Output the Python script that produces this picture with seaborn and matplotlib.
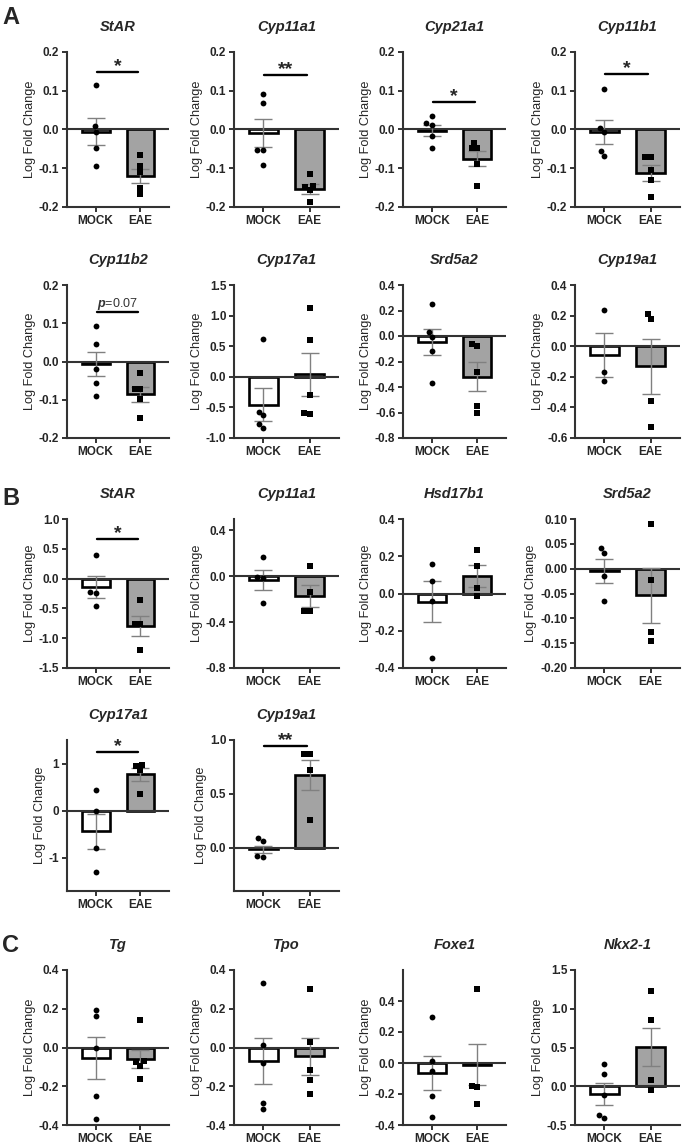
import numpy as np
import matplotlib
matplotlib.use('Agg')
import matplotlib.pyplot as plt
from matplotlib.ticker import FormatStrFormatter
import seaborn as sns

groups = ['MOCK', 'EAE']

# ---- section A ----
genes_a = ['StAR', 'Cyp11a1', 'Cyp21a1', 'Cyp11b1', 'Cyp11b2', 'Cyp17a1', 'Srd5a2', 'Cyp19a1']
a_mock_mean = [-0.006, -0.008, -0.003, -0.006, -0.007, -0.46, -0.048, -0.058]
a_mock_sem = [0.035, 0.036, 0.015, 0.031, 0.032, 0.27, 0.10, 0.145]
a_eae_mean = [-0.120, -0.153, -0.075, -0.112, -0.086, 0.04, -0.32, -0.132]
a_eae_sem = [0.018, 0.013, 0.020, 0.020, 0.019, 0.35, 0.115, 0.18]
a_mock_pts = [
    [0.115, 0.008, -0.007, -0.047, -0.095],
    [0.092, 0.069, -0.052, -0.054, -0.092],
    [0.034, 0.017, 0.012, -0.018, -0.047],
    [0.104, 0.004, -0.006, -0.055, -0.068],
    [0.093, 0.046, -0.019, -0.056, -0.089],
    [0.62, -0.57, -0.63, -0.77, -0.83],
    [0.25, 0.03, -0.01, -0.12, -0.37],
    [0.235, -0.17, -0.23],
]
a_eae_pts = [
    [-0.067, -0.095, -0.110, -0.151, -0.166],
    [-0.115, -0.145, -0.148, -0.155, -0.187],
    [-0.035, -0.047, -0.047, -0.090, -0.146],
    [-0.070, -0.072, -0.105, -0.130, -0.175],
    [-0.031, -0.072, -0.073, -0.097, -0.148],
    [1.13, 0.60, -0.30, -0.59, -0.61],
    [-0.06, -0.08, -0.28, -0.55, -0.60],
    [0.21, 0.18, -0.36, -0.53],
]
a_ylim = [(-0.2, 0.2)] * 5 + [(-1.0, 1.5), (-0.8, 0.4), (-0.6, 0.4)]
a_ticks = [[-0.2, -0.1, 0.0, 0.1, 0.2]] * 5 + [
    [-1.0, -0.5, 0.0, 0.5, 1.0, 1.5],
    [-0.8, -0.6, -0.4, -0.2, 0.0, 0.2, 0.4],
    [-0.6, -0.4, -0.2, 0.0, 0.2, 0.4],
]
a_fmt = ['%.1f'] * 8
a_sig = ['*', '**', '*', '*', '$p$=0.07', '', '', '']
a_sig_y = [0.148, 0.140, 0.071, 0.143, 0.130, 0, 0, 0]

# ---- section B ----
genes_b = ['StAR', 'Cyp11a1', 'Hsd17b1', 'Srd5a2', 'Cyp17a1', 'Cyp19a1']
b_mock_mean = [-0.14, -0.03, -0.044, -0.004, -0.43, -0.015]
b_mock_sem = [0.18, 0.086, 0.11, 0.024, 0.37, 0.035]
b_eae_mean = [-0.79, -0.17, 0.095, -0.054, 0.77, 0.675]
b_eae_sem = [0.17, 0.095, 0.058, 0.055, 0.13, 0.14]
b_mock_pts = [
    [0.40, -0.23, -0.24, -0.46],
    [0.17, -0.01, -0.015, -0.23],
    [0.16, 0.065, -0.04, -0.345],
    [0.041, 0.031, -0.014, -0.065],
    [0.44, 0.0, -0.78, -1.30],
    [0.09, 0.06, -0.077, -0.087],
]
b_eae_pts = [
    [-0.36, -0.76, -0.76, -1.19],
    [0.09, -0.14, -0.30, -0.30],
    [0.236, 0.15, 0.03, -0.015],
    [0.089, -0.022, -0.128, -0.146],
    [0.98, 0.94, 0.86, 0.35],
    [0.87, 0.87, 0.72, 0.26],
]
b_ylim = [(-1.5, 1.0), (-0.8, 0.5), (-0.4, 0.4), (-0.2, 0.1), (-1.7, 1.5), (-0.4, 1.0)]
b_ticks = [
    [-1.5, -1.0, -0.5, 0.0, 0.5, 1.0],
    [-0.8, -0.4, 0.0, 0.4],
    [-0.4, -0.2, 0.0, 0.2, 0.4],
    [-0.20, -0.15, -0.10, -0.05, 0.00, 0.05, 0.10],
    [-1, 0, 1],
    [0.0, 0.5, 1.0],
]
b_fmt = ['%.1f', '%.1f', '%.1f', '%.2f', '%d', '%.1f']
b_sig = ['*', '', '', '', '*', '**']
b_sig_y = [0.66, 0, 0, 0, 1.24, 0.94]

# ---- section C ----
genes_c = ['Tg', 'Tpo', 'Foxe1', 'Nkx2-1']
c_mock_mean = [-0.055, -0.07, -0.065, -0.10]
c_mock_sem = [0.11, 0.118, 0.107, 0.14]
c_eae_mean = [-0.06, -0.045, -0.01, 0.51]
c_eae_sem = [0.045, 0.095, 0.13, 0.245]
c_mock_pts = [
    [0.196, 0.165, 0.0, -0.251, -0.371],
    [0.333, 0.012, -0.08, -0.284, -0.316],
    [0.30, 0.01, -0.054, -0.216, -0.346],
    [0.282, 0.154, -0.115, -0.372, -0.415],
]
c_eae_pts = [
    [0.14, -0.072, -0.075, -0.094, -0.163],
    [0.30, 0.026, -0.116, -0.166, -0.238],
    [0.48, -0.148, -0.155, -0.265],
    [1.23, 0.86, 0.077, -0.051],
]
c_ylim = [(-0.4, 0.4), (-0.4, 0.4), (-0.4, 0.6), (-0.5, 1.5)]
c_ticks = [[-0.4, -0.2, 0.0, 0.2, 0.4]] * 3 + [[-0.5, 0.0, 0.5, 1.0, 1.5]]
c_fmt = ['%.1f'] * 4
c_sig = ['', '', '', '']
c_sig_y = [0, 0, 0, 0]

# ---- style ----
sns.set_style('ticks')
plt.rcParams['font.family'] = ['Liberation Sans', 'DejaVu Sans']
plt.rcParams['font.weight'] = 'bold'
plt.rcParams['axes.unicode_minus'] = False
plt.rcParams['mathtext.fontset'] = 'custom'
plt.rcParams['mathtext.it'] = 'Liberation Sans:italic'
plt.rcParams['mathtext.rm'] = 'Liberation Sans'

axis_color = '#333333'
bar_colors = ['white', '#a3a3a3']

W, H = 685, 1146
fig = plt.figure(figsize=(W / 100, H / 100), dpi=100)

cols = [(67, 169), (234, 339), (403, 506), (575, 680)]
rows = {'A1': (52, 207), 'A2': (285, 438), 'B1': (519, 668), 'B2': (740, 891), 'C': (970, 1125)}


def draw_panel(x0, x1, y0, y1, gene, mock_pts, eae_pts, means, sems, ylim, yticks, fmt, sig, sig_y):
    ax = fig.add_axes([x0 / W, 1 - y1 / H, (x1 - x0) / W, (y1 - y0) / H])
    sns.barplot(x=groups, y=means, hue=groups, order=groups, hue_order=groups,
                palette=bar_colors, width=0.62, edgecolor='black', linewidth=1.9,
                errorbar=None, legend=False, ax=ax, zorder=1)
    ax.axhline(0, color=axis_color, lw=1.5, zorder=2)
    ax.errorbar(np.arange(len(groups)), means, yerr=sems, fmt='none', ecolor='#808080',
                elinewidth=1.0, capsize=6.5, capthick=1.0, zorder=3)
    sns.swarmplot(x=['MOCK'] * len(mock_pts), y=mock_pts, order=groups, color='black',
                  marker='o', size=4.2, linewidth=0, ax=ax, zorder=4)
    sns.swarmplot(x=['EAE'] * len(eae_pts), y=eae_pts, order=groups, color='black',
                  marker='s', size=3.8, linewidth=0, ax=ax, zorder=4)
    ax.set_xlim(-0.64, 1.64)
    ax.set_ylim(ylim)
    ax.set_yticks(yticks)
    ax.yaxis.set_major_formatter(FormatStrFormatter(fmt))
    ax.set_xlabel('')
    ax.set_ylabel('Log Fold Change', fontsize=9.2, labelpad=2)
    sns.despine(ax=ax)
    for s in ['left', 'bottom']:
        ax.spines[s].set_color(axis_color)
        ax.spines[s].set_linewidth(1.5)
    ax.tick_params(axis='both', length=3.5, width=1.4, color=axis_color, labelsize=8.5, pad=2)

    if sig:
        ax.plot([0.02, 0.95], [sig_y, sig_y], color='black', lw=1.7, clip_on=False, zorder=5)
        if sig.startswith('$'):
            ax.annotate(sig, xy=(0.485, sig_y), xytext=(0, 3.5), textcoords='offset points',
                        ha='center', va='baseline', fontsize=9, fontweight='normal', color='#333333')
        else:
            ax.annotate(sig, xy=(0.485, sig_y), xytext=(0, 1), textcoords='offset points',
                        ha='center', va='baseline', fontsize=14)

    fig.text((x0 + x1) / 2 / W, 1 - (y0 - 25) / H, gene, ha='center', va='center',
             fontsize=10.5, style='italic', fontweight='bold')
    return ax


sections = [
    (genes_a, a_mock_pts, a_eae_pts, a_mock_mean, a_mock_sem, a_eae_mean, a_eae_sem,
     a_ylim, a_ticks, a_fmt, a_sig, a_sig_y, ['A1'] * 4 + ['A2'] * 4),
    (genes_b, b_mock_pts, b_eae_pts, b_mock_mean, b_mock_sem, b_eae_mean, b_eae_sem,
     b_ylim, b_ticks, b_fmt, b_sig, b_sig_y, ['B1'] * 4 + ['B2'] * 2),
    (genes_c, c_mock_pts, c_eae_pts, c_mock_mean, c_mock_sem, c_eae_mean, c_eae_sem,
     c_ylim, c_ticks, c_fmt, c_sig, c_sig_y, ['C'] * 4),
]

for (genes, mpts, epts, mm, ms, em, es, ylims, ticks, fmts, sigs, sig_ys, row_keys) in sections:
    for i, gene in enumerate(genes):
        x0, x1 = cols[i % 4]
        y0, y1 = rows[row_keys[i]]
        draw_panel(x0, x1, y0, y1, gene, mpts[i], epts[i], [mm[i], em[i]], [ms[i], es[i]],
                   ylims[i], ticks[i], fmts[i], sigs[i], sig_ys[i])

# panel letters
for letter, y in [('A', 17), ('B', 498), ('C', 945)]:
    fig.text(2 / W, 1 - y / H, letter, fontsize=17, fontweight='bold', ha='left', va='center')

fig.savefig('out.png', dpi=100)
